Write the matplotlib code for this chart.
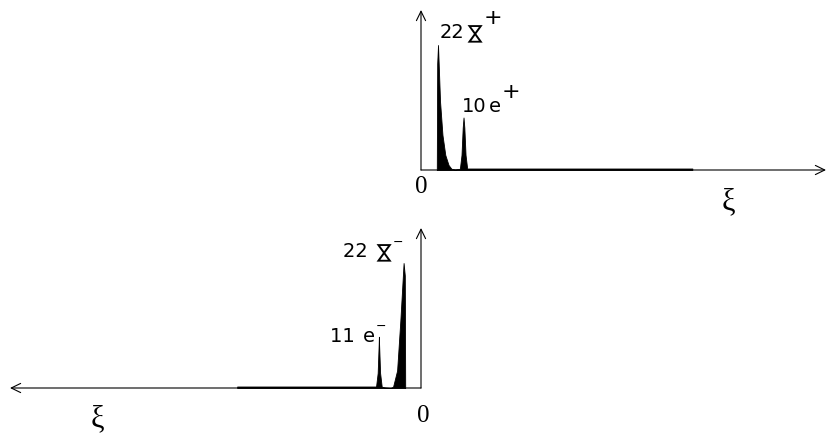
import matplotlib.pyplot as plt

# positive branch: intensity profile vs xi (arbitrary units)
pos_xi = [3.9, 4.0, 4.2, 4.7, 5.3, 6.0, 6.8, 7.5, 8.4, 9.6, 10.0, 10.3, 10.5, 10.7, 11.0, 11.4, 67.0, 67.0]
pos_I = [0.0, 0.85, 1.0, 0.55, 0.28, 0.12, 0.04, 0.01, 0.005, 0.01, 0.12, 0.34, 0.42, 0.34, 0.12, 0.012, 0.012, 0.0]

# negative branch
neg_xi = [3.9, 4.0, 4.3, 5.1, 5.9, 6.9, 7.5, 9.0, 9.7, 10.1, 10.35, 10.4, 10.45, 10.7, 11.1, 45.4, 45.4]
neg_I = [0.0, 0.9, 1.0, 0.54, 0.14, 0.01, 0.0, 0.005, 0.01, 0.12, 0.35, 0.41, 0.35, 0.12, 0.012, 0.012, 0.0]

# (number, particle, charge, xi, height) of each peak label
pos_labels = [("22", "hg", "+", 4.7, 1.056), ("10", "e", "+", 10.1, 0.464)]
neg_labels = [("22 ", "hg", "-", 19.3, 1.048), ("11 ", "e", "-", 22.5, 0.37)]

W, H = 828, 434
fig = plt.figure(figsize=(W / 100, H / 100), dpi=100)

ax1 = fig.add_axes([421 / W, (H - 170) / H, 405 / W, 160 / H])
ax2 = fig.add_axes([10 / W, (H - 388) / H, 411 / W, 160 / H])

ax1.set_xlim(0, 100)
ax2.set_xlim(101.5, 0)
for ax in (ax1, ax2):
    ax.set_ylim(0, 1.28)
    ax.axis("off")

arrow = dict(arrowstyle="->,head_length=0.45,head_width=0.22", lw=0.8, color="black",
             mutation_scale=15, shrinkA=0, shrinkB=0)
sans = ["DejaVu Sans"]
serif = dict(family=["Liberation Serif", "DejaVu Serif"])
PX = 0.72  # points per pixel


def put(ax, s, x, y, dx, dy, **kw):
    return ax.annotate(s, (x, y), xytext=(dx * PX, dy * PX), textcoords="offset points",
                       family=sans, **kw)


def peak_label(ax, num, part, charge, x, y):
    t = put(ax, num, x, y, 0, 0, ha="left", va="baseline", fontsize=14)
    fig.canvas.draw()
    w = t.get_window_extent().width
    if part == "hg":
        # hourglass drawn as a rotated bowtie
        put(ax, "⋈", x, y, w + 10, 7, ha="center", va="center", rotation=90, fontsize=16)
        w += 18
    else:
        e = put(ax, "e", x, y, w + 2, 0, ha="left", va="baseline", fontsize=14)
        fig.canvas.draw()
        w += e.get_window_extent().width + 2
    if charge == "+":
        put(ax, "+", x, y, w + 1, 20, ha="left", va="center", fontsize=16)
    else:
        put(ax, "−", x, y, w + 1, 15, ha="left", va="center", fontsize=9)


def draw_branch(ax, xi, inten, labels, xmax, zero_pos, xi_pos):
    ax.fill_between(xi, 0, inten, color="black", lw=0.6, clip_on=False)
    ax.annotate("", xy=(xmax, 0), xytext=(0, 0), arrowprops=arrow, annotation_clip=False)
    ax.annotate("", xy=(0, 1.28), xytext=(0, 0), arrowprops=arrow, annotation_clip=False)
    for lab in labels:
        peak_label(ax, *lab)
    ax.text(*zero_pos, "0", ha="center", va="center", fontsize=18, **serif)
    ax.text(*xi_pos, "ξ", ha="center", va="center", fontsize=22, **serif)


draw_branch(ax1, pos_xi, pos_I, pos_labels, 100, (0, -0.136), (75.8, -0.25))
draw_branch(ax2, neg_xi, neg_I, neg_labels, 101.5, (-0.5, -0.22), (80, -0.245))

fig.savefig("out.png", dpi=100)
